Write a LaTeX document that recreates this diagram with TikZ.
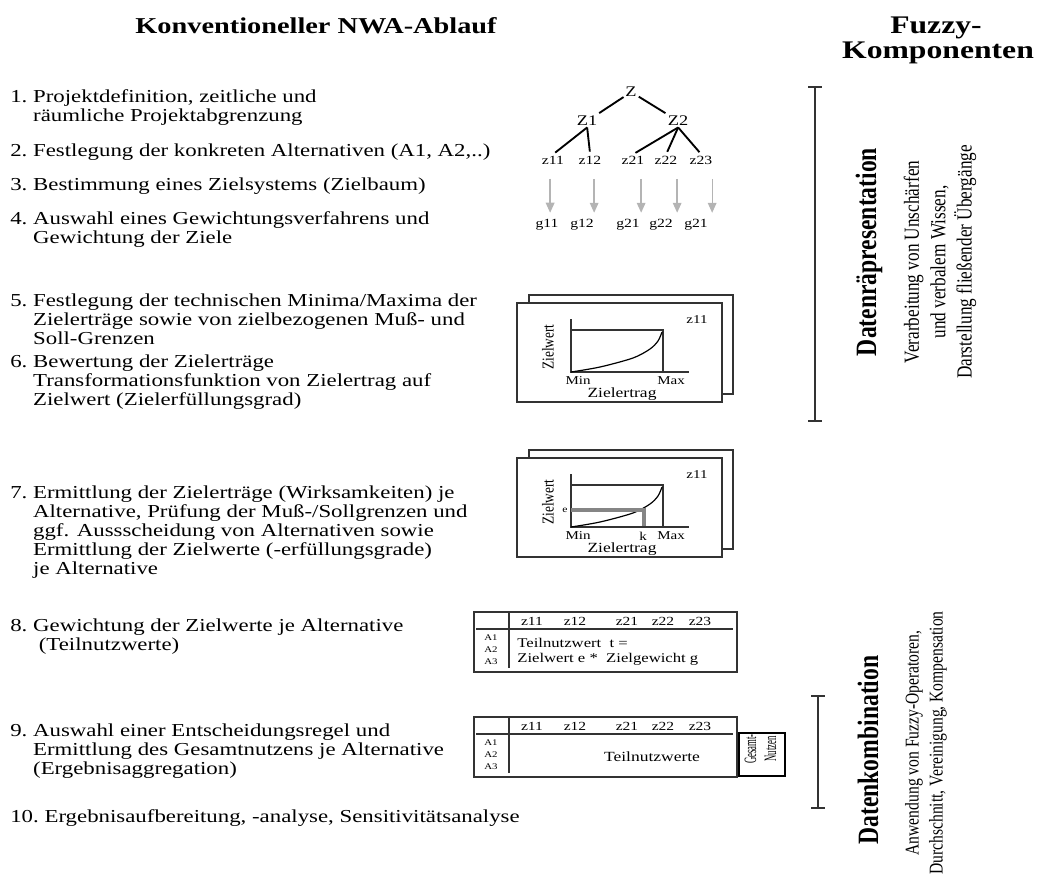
\documentclass[tikz,border=0pt]{standalone}
\usepackage{fontspec}
\setmainfont{Liberation Serif}
\usetikzlibrary{arrows.meta}
\definecolor{framegray}{HTML}{333333}
\definecolor{arrowgray}{HTML}{B4B4B4}
\definecolor{markgray}{HTML}{858585}
\newcommand{\nwaitem}[2]{\makebox[1em][l]{#1}\begin{tabular}[t]{@{}l@{}}#2\end{tabular}}
\begin{document}
\begin{tikzpicture}[x=0.6pt,y=-0.75pt,xscale=1.25,transform shape,
  item/.style={anchor=base west,inner sep=0pt,font=\fontsize{13.7}{14.3}\selectfont},
  head/.style={anchor=base,inner sep=0pt,font=\bfseries\fontsize{17}{20}\selectfont},
  tnode/.style={inner sep=1pt,font=\fontsize{11}{13}\selectfont},
  leaf/.style={inner sep=1pt,font=\fontsize{9.4}{11}\selectfont},
  gwt/.style={inner sep=1pt,font=\fontsize{9.4}{11}\selectfont},
  tedge/.style={line width=1.4pt,shorten >=2pt},
  garrow/.style={arrowgray,line width=1pt,-{Triangle[length=7.5pt,width=6.5pt]}},
  chartbox/.style={draw=framegray,line width=0.9pt,fill=white},
  axis/.style={framegray,line width=0.8pt},
  curve/.style={black,line width=0.9pt},
  clab/.style={inner sep=0pt,font=\fontsize{9}{11}\selectfont},
  tlab/.style={inner sep=0pt,font=\fontsize{9.3}{11}\selectfont},
  alab/.style={inner sep=0pt,font=\fontsize{6.5}{7}\selectfont},
  tbody/.style={inner sep=0pt,font=\fontsize{10}{11.3}\selectfont},
  tablebox/.style={draw=framegray,line width=0.9pt},
  tablerule/.style={framegray,line width=0.8pt},
  bracket/.style={framegray,line width=1pt},
  fuzzy/.style={rotate=90,inner sep=0pt,font=\bfseries\fontsize{17.7}{20}\selectfont},
  fuzzysub/.style={rotate=90,inner sep=0pt,align=center}
]
\useasboundingbox (0,0) rectangle (1045,879);

% headings
\node[head] (title) at (316,33) {Konventioneller NWA-Ablauf};
\node[head,font=\bfseries\fontsize{19}{22}\selectfont] (fuzzy) at (936,33) {Fuzzy-};
\node[head,font=\bfseries\fontsize{19}{22}\selectfont] (komp) at (938,58) {Komponenten};

% steps of the NWA
\node[item] (s1) at (10,102) {\nwaitem{1.}{Projektdefinition, zeitliche und\\räumliche Projektabgrenzung}};
\node[item] (s2) at (10,156) {\nwaitem{2.}{Festlegung der konkreten Alternativen (A1, A2,..)}};
\node[item] (s3) at (10,190) {\nwaitem{3.}{Bestimmung eines Zielsystems (Zielbaum)}};
\node[item] (s4) at (10,224) {\nwaitem{4.}{Auswahl eines Gewichtungsverfahrens und\\Gewichtung der Ziele}};
\node[item] (s5) at (10,306) {\nwaitem{5.}{Festlegung der technischen Minima/Maxima der\\Zielerträge sowie von zielbezogenen Muß- und\\Soll-Grenzen}};
\node[item] (s6) at (10,367) {\nwaitem{6.}{Bewertung der Zielerträge\\Transformationsfunktion von Zielertrag auf\\Zielwert (Zielerfüllungsgrad)}};
\node[item] (s7) at (10,498) {\nwaitem{7.}{Ermittlung der Zielerträge (Wirksamkeiten) je\\Alternative, Prüfung der Muß-/Sollgrenzen und\\ggf. Aussscheidung von Alternativen sowie\\Ermittlung der Zielwerte (-erfüllungsgrade)\\je Alternative}};
\node[item] (s8) at (10,631) {\nwaitem{8.}{Gewichtung der Zielwerte je Alternative\\\ (Teilnutzwerte)}};
\node[item] (s9) at (10,736) {\nwaitem{9.}{Auswahl einer Entscheidungsregel und\\Ermittlung des Gesamtnutzens je Alternative\\(Ergebnisaggregation)}};
\node[item] (s10) at (10,822) {10.\ Ergebnisaufbereitung, -analyse, Sensitivitätsanalyse};

% Zielbaum
\node[tnode] (Z) at (631,92) {Z};
\node[tnode] (Z1) at (587,121) {Z1};
\node[tnode] (Z2) at (678,121) {Z2};
\node[leaf] (z11) at (553,160) {z11};
\node[leaf] (z12) at (590,160) {z12};
\node[leaf] (z21) at (633,160) {z21};
\node[leaf] (z22) at (666,160) {z22};
\node[leaf] (z23) at (701,160) {z23};
\node[gwt] (g11) at (547,225) {g11};
\node[gwt] (g12) at (582,225) {g12};
\node[gwt] (g21) at (628,225) {g21};
\node[gwt] (g22) at (661,225) {g22};
\node[gwt] (g23) at (696,225) {g21};
\draw[tedge] (Z) -- (Z1);
\draw[tedge] (Z) -- (Z2);
\draw[tedge] (Z1.south) -- (z11.north);
\draw[tedge] (Z1.south) -- (z12.north);
\draw[tedge] (Z2.south) -- (z21.north);
\draw[tedge] (Z2.south) -- (z22.north);
\draw[tedge] (Z2.south) -- (z23.north);
\foreach \z/\dx in {z11/-3,z12/4,z21/8,z22/11,z23/11}
  \draw[garrow] (\z.south) ++(\dx,13) -- ++(0,34);

% Transformationsfunktion (zwei Blaetter)
\foreach \dy in {0,155}{
  \begin{scope}[shift={(0,\dy)}]
    \path[chartbox] (529,295) rectangle (733,394);
    \path[chartbox] (517,303) rectangle (722,402);
    \draw[axis] (571,319) -- (571,372) -- (689,372);
    \draw[axis] (571,330) -- (663,330) -- (663,372);
    \draw[curve] plot[smooth] coordinates {(571,372) (600,367) (633,358) (650,349) (658,341) (662,332)};
    \node[clab] (zc\dy) at (697,320) {z11};
    \node[clab,rotate=90,font=\fontsize{10}{12}\selectfont] (zw\dy) at (548,347) {Zielwert};
    \node[clab] (min\dy) at (578,381) {Min};
    \node[clab] (max\dy) at (671,381) {Max};
    \node[clab,font=\fontsize{10.5}{12}\selectfont] (ze\dy) at (622,394) {Zielertrag};
  \end{scope}
}
\draw[markgray,line width=2.5pt] (571,510) -- (644,510) -- (644,526);
\node[clab,font=\fontsize{7}{8}\selectfont] (e) at (565,510) {e};
\node[clab] (k) at (643,536) {k};

% Teilnutzwert-Tabellen
\foreach \dy in {0,105}{
  \begin{scope}[shift={(0,\dy)}]
    \draw[tablebox] (474,612) rectangle (737,672);
    \draw[tablerule] (476,629) -- (733,629);
    \draw[tablerule] (509,612) -- (509,668);
    \foreach \z/\x in {z11/532,z12/575,z21/627,z22/663,z23/700}
      \node[tlab] (h\z\dy) at (\x,621) {\z};
    \foreach \a/\y in {A1/638,A2/650,A3/662}
      \node[alab] (\a\dy) at (491,\y) {\a};
  \end{scope}
}
\node[tbody,anchor=west,align=left] (tnw) at (517,652) {Teilnutzwert~~t =\\Zielwert e *~~Zielgewicht g};
\node[tbody,font=\fontsize{10.5}{12}\selectfont] (tnw2) at (652,757) {Teilnutzwerte};
\draw[line width=1.5pt] (739,733) rectangle (785,776);
\node[rotate=90,inner sep=0pt,font=\fontsize{6.5}{7.5}\selectfont] (ges) at (762,749)
  {\scalebox{1}[1.6]{\begin{tabular}{@{}c@{}}Gesamt-\\Nutzen\end{tabular}}};

% Fuzzy-Komponenten
\draw[bracket] (808,87) -- (822,87) (815,87) -- (815,421) (808,421) -- (822,421);
\draw[bracket] (811,696) -- (825,696) (818,696) -- (818,808) (811,808) -- (825,808);
\node[fuzzy] (drep) at (869,252) {Datenräpresentation};
\node[fuzzysub,font=\fontsize{12.9}{15.8}\selectfont] (drepsub) at (940,262) {Verarbeitung von Unschärfen\\und verbalem Wissen,\\Darstellung fließender Übergänge};
\node[fuzzy] (dkomb) at (868,750) {Datenkombination};
\node[fuzzysub,font=\fontsize{11.7}{14.4}\selectfont] (dkombsub) at (926,743) {Anwendung von Fuzzy-Operatoren,\\Durchschnitt, Vereinigung, Kompensation};
\end{tikzpicture}
\end{document}
